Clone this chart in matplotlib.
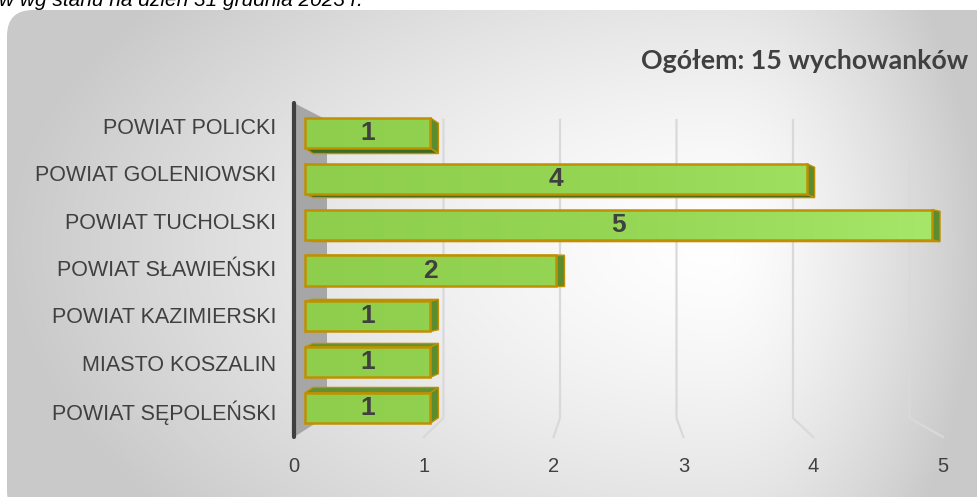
import numpy as np
import matplotlib
matplotlib.use("Agg")
import matplotlib.pyplot as plt
from matplotlib.patches import FancyBboxPatch, Polygon
from matplotlib.colors import LinearSegmentedColormap

# ---------------- data ----------------
categories = ["POWIAT SĘPOLEŃSKI", "MIASTO KOSZALIN", "POWIAT KAZIMIERSKI",
              "POWIAT SŁAWIEŃSKI", "POWIAT TUCHOLSKI", "POWIAT GOLENIOWSKI",
              "POWIAT POLICKI"]
values = [1, 1, 1, 2, 5, 4, 1]
x_ticks = [0, 1, 2, 3, 4, 5]
title = "Ogółem: 15 wychowanków"
caption = "w wg stanu na dzień 31 grudnia 2023 r."

plt.rcParams['font.family'] = ['Liberation Sans', 'DejaVu Sans']

W, H = 977, 497
fig = plt.figure(figsize=(W / 100, H / 100), dpi=100)
fig.patch.set_facecolor("white")

# ---------------- background (rounded, gradient) ----------------
bg = fig.add_axes([0, 0, 1, 1], zorder=0)
bg.set_xlim(0, W)
bg.set_ylim(H, 0)
bg.axis("off")
yy, xx = np.mgrid[0:H, 0:W]
cx, cy = 720, 240
dxn = np.where(xx < cx, (cx - xx) / (cx - 7), (xx - cx) / (W - cx))
dyn = np.where(yy < cy, (cy - yy) / (cy - 10), (yy - cy) / (H - cy))
d = np.clip(np.sqrt(dxn ** 2 + 0.35 * dyn ** 2), 0, 1)
g = 1 - 0.21 * d ** 1.4
img = np.dstack([g, g, g])
im = bg.imshow(img, extent=(0, W, H, 0), interpolation="bilinear", aspect="auto")
box = FancyBboxPatch((7, 10), W + 30, H + 10, boxstyle="round,pad=0,rounding_size=26",
                     transform=bg.transData, facecolor="none", edgecolor="none")
bg.add_patch(box)
im.set_clip_path(box)

# ---------------- main axes ----------------
x0_px, x5_px = 305, 932
top_px, bot_px = 110, 431
ax = fig.add_axes([x0_px / W, 1 - bot_px / H, (x5_px - x0_px) / W, (bot_px - top_px) / H], zorder=2)
ax.set_xlim(0, 5)
ax.set_ylim(-0.5, len(categories) - 0.5)
ax.patch.set_alpha(0)
for s in ax.spines.values():
    s.set_visible(False)
ax.set_xticks([])
ax.set_yticks([])

sx = (x5_px - x0_px) / 5.0
sy = (bot_px - top_px) / len(categories)


def ypx(p):
    return (bot_px - p) / sy - 0.5


def back_x(v):
    return (327 + 116.5 * v - x0_px) / sx


def front_x(v):
    return (294 + 129.8 * v - x0_px) / sx


# wall
wall = Polygon([(front_x(0), ypx(103)), (back_x(0), ypx(120)),
                (back_x(0), ypx(416)), (front_x(0), ypx(437))],
               closed=True, facecolor="#A6A6A6", edgecolor="none", zorder=1, clip_on=False)
ax.add_patch(wall)
ax.plot([front_x(0), front_x(0)], [ypx(103), ypx(437)], color="#404040", lw=3,
        solid_capstyle="round", zorder=1.5, clip_on=False)

# gridlines in perspective
for v in x_ticks[1:]:
    ax.plot([back_x(v), back_x(v), front_x(v)], [ypx(120), ypx(418), ypx(437)],
            color="#D9D9D9", lw=1.6, zorder=0.5, clip_on=False)

# tick labels
for v in x_ticks:
    ax.text(front_x(v), ypx(467), str(v), ha="center", va="center", fontsize=14.5,
            color="#404040", clip_on=False)

# bars
h = 0.66
dx = 8 / sx
grad_cmap = LinearSegmentedColormap.from_list("g", ["#8ECE4C", "#96D655", "#A6E668"])
grad = np.linspace(0, 1, 256).reshape(1, -1)
bars = ax.barh(range(len(categories)), values, height=h, color="none",
               edgecolor="#C09000", linewidth=1.8, zorder=4)
for i, (b, v) in enumerate(zip(bars, values)):
    dy = -(i - 3) * 1.83 / sy
    yb, yt = i - h / 2, i + h / 2
    side = Polygon([(v, yb), (v, yt), (v + dx, yt + dy), (v + dx, yb + dy)], closed=True,
                   facecolor="#5B8C30", edgecolor="#C09000", lw=1.0, zorder=2.5, clip_on=False)
    ax.add_patch(side)
    if dy < 0:
        tb = Polygon([(0, yb), (v, yb), (v + dx, yb + dy), (dx, yb + dy)], closed=True,
                     facecolor="#3F6A22", edgecolor="#C09000", lw=1.0, zorder=2.4, clip_on=False)
    else:
        tb = Polygon([(0, yt), (v, yt), (v + dx, yt + dy), (dx, yt + dy)], closed=True,
                     facecolor="#5E9234", edgecolor="#C09000", lw=1.0, zorder=2.4, clip_on=False)
    ax.add_patch(tb)
    gi = ax.imshow(grad, extent=(0, 5, -0.5, len(categories) - 0.5), aspect="auto",
                   cmap=grad_cmap, zorder=3, interpolation="bilinear")
    gi.set_clip_path(b)
    b.set_clip_on(False)
    ax.text(v / 2, i, str(v), ha="center", va="center", fontsize=19, fontweight="bold",
            color="#404040", zorder=5)

ax.set_xlim(0, 5)
ax.set_ylim(-0.5, len(categories) - 0.5)

# category labels
for i, c in enumerate(categories):
    ax.text((276 - x0_px) / sx, 3 + (i - 3) * 1.035, c, ha="right", va="center",
            fontsize=15.5, color="#404040", clip_on=False)

# title and caption
fig.text(968 / W, 1 - 61 / H, title, ha="right", va="center", fontsize=19.3,
         fontweight="bold", family=["Lato", "DejaVu Sans"], color="#404040")
fig.text(-0.001, 1 - 6 / H, caption, ha="left", va="baseline", fontsize=15,
         style="italic", color="black")

fig.savefig("out.png", dpi=100)
